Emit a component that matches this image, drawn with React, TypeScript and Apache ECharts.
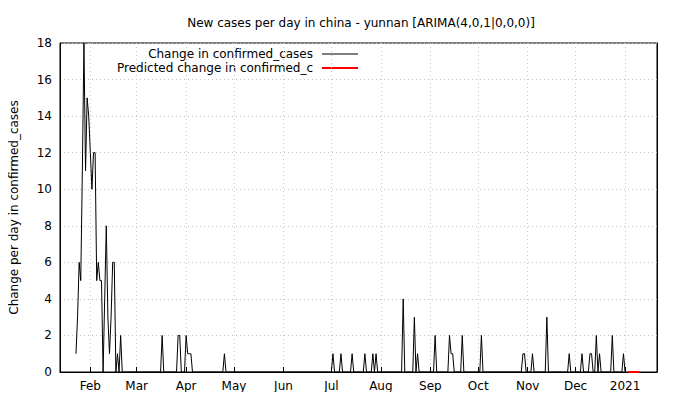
import React, { useEffect, useRef } from "react";
import * as echarts from "echarts";

const actualDates = [
  "2020-01-23","2020-01-24","2020-01-25","2020-01-26","2020-01-27","2020-01-28","2020-01-29","2020-01-30","2020-01-31",
  "2020-02-01","2020-02-02","2020-02-03","2020-02-04","2020-02-05","2020-02-06","2020-02-07","2020-02-08","2020-02-09",
  "2020-02-10","2020-02-11","2020-02-12","2020-02-13","2020-02-14","2020-02-15","2020-02-16","2020-02-17","2020-02-18",
  "2020-02-19","2020-02-20","2020-02-21",
  "2020-03-16","2020-03-17","2020-03-18","2020-03-26","2020-03-27","2020-03-28","2020-03-29","2020-03-31","2020-04-01",
  "2020-04-02","2020-04-03","2020-04-04","2020-04-05","2020-04-24","2020-04-25","2020-04-26",
  "2020-07-01","2020-07-02","2020-07-03","2020-07-06","2020-07-07","2020-07-08","2020-07-13","2020-07-14","2020-07-15",
  "2020-07-21","2020-07-22","2020-07-23","2020-07-26","2020-07-27","2020-07-28","2020-07-29","2020-07-30",
  "2020-08-14","2020-08-15","2020-08-16","2020-08-21","2020-08-22","2020-08-23","2020-08-24","2020-08-25",
  "2020-09-03","2020-09-04","2020-09-05","2020-09-12","2020-09-13","2020-09-14","2020-09-15","2020-09-16",
  "2020-09-20","2020-09-21","2020-09-22","2020-10-02","2020-10-03","2020-10-04",
  "2020-10-28","2020-10-29","2020-10-30","2020-10-31","2020-11-03","2020-11-04","2020-11-05","2020-11-12","2020-11-13","2020-11-14",
  "2020-11-26","2020-11-27","2020-11-28","2020-12-04","2020-12-05","2020-12-06","2020-12-09","2020-12-10","2020-12-11","2020-12-12",
  "2020-12-13","2020-12-14","2020-12-15","2020-12-16","2020-12-17","2020-12-23","2020-12-24","2020-12-25","2020-12-30","2020-12-31","2021-01-01",
];
const actualValues = [
  1,3,6,5,11,18,11,15,14,
  12,10,12,12,5,6,5,5,0,
  4,8,3,1,3,6,6,0,1,
  0,2,0,
  0,2,0,0,2,2,0,0,2,
  1,1,1,0,0,1,0,
  0,1,0,0,1,0,0,1,0,
  0,1,0,0,1,0,1,0,
  0,4,0,0,3,0,1,0,
  0,2,0,0,2,1,1,0,
  0,2,0,0,2,0,
  0,1,1,0,0,1,0,0,3,0,
  0,1,0,0,1,0,0,1,1,0,
  0,2,0,1,0,0,2,0,0,1,0,
];
const predDates = ["2021-01-03","2021-01-10"];
const predValues = [0, 0];
const monthNames = ["Jan","Feb","Mar","Apr","May","Jun","Jul","Aug","Sep","Oct","Nov","Dec"];

export default function App() {
  const ref = useRef<HTMLDivElement>(null);
  useEffect(() => {
    const chart = echarts.init(ref.current!, undefined, { renderer: "svg" });
    const font = "DejaVu Sans";
    chart.setOption({
      animation: false,
      textStyle: { fontFamily: font },
      title: {
        text: "New cases per day in china - yunnan [ARIMA(4,0,1|0,0,0)]",
        left: 356, top: 12, textAlign: "center",
        textStyle: { fontSize: 12, fontWeight: "normal", color: "#000", fontFamily: font },
      },
      grid: { left: 55, right: 23, top: 43, bottom: 28, show: true, borderColor: "#000", borderWidth: 1 },
      xAxis: {
        type: "time",
        min: "2020-01-13",
        max: "2021-01-21",
        splitNumber: 12,
        axisLine: { lineStyle: { color: "#000" } },
        axisTick: { inside: true, length: 5, lineStyle: { color: "#000" } },
        axisLabel: {
          color: "#000", fontSize: 12, fontFamily: font,
          formatter: (v: number) => {
            const d = new Date(v);
            return d.getMonth() === 0 ? String(d.getFullYear()) : monthNames[d.getMonth()];
          },
        },
        splitLine: { show: true, lineStyle: { color: "#c8c8c8", type: [1, 3] } },
      },
      yAxis: [
        {
          type: "value", min: 0, max: 18, interval: 2,
          name: "Change per day in confirmed_cases", nameLocation: "middle", nameGap: 40,
          nameTextStyle: { color: "#000", fontSize: 12, fontFamily: font },
          axisLine: { show: true, lineStyle: { color: "#000" } },
          axisTick: { inside: true, length: 5, lineStyle: { color: "#000" } },
          axisLabel: { color: "#000", fontSize: 12, fontFamily: font },
          splitLine: { show: true, lineStyle: { color: "#c8c8c8", type: [1, 3] } },
        },
        {
          type: "value", min: 0, max: 18, interval: 2, position: "right",
          axisLine: { show: true, lineStyle: { color: "#000" } },
          axisTick: { inside: true, length: 5, lineStyle: { color: "#000" } },
          axisLabel: { show: false }, splitLine: { show: false },
        },
      ],
      series: [
        {
          type: "line", name: "Change in confirmed_cases", showSymbol: false,
          lineStyle: { color: "#000", width: 1 },
          data: actualDates.map((d, i) => [d, actualValues[i]]),
        },
        {
          type: "line", name: "Predicted change in confirmed_c", showSymbol: false,
          lineStyle: { color: "#ff0000", width: 2 },
          data: predDates.map((d, i) => [d, predValues[i]]),
        },
      ],
      graphic: [
        { type: "text", x: 313, y: 54, style: { text: "Change in confirmed_cases", align: "right", verticalAlign: "middle", fontSize: 12, fontFamily: font, fill: "#000" } },
        { type: "line", shape: { x1: 322, y1: 54, x2: 358, y2: 54 }, style: { stroke: "#000", lineWidth: 1 } },
        { type: "text", x: 313, y: 68, style: { text: "Predicted change in confirmed_c", align: "right", verticalAlign: "middle", fontSize: 12, fontFamily: font, fill: "#000" } },
        { type: "line", shape: { x1: 322, y1: 68, x2: 358, y2: 68 }, style: { stroke: "#ff0000", lineWidth: 2 } },
      ],
    });
    return () => chart.dispose();
  }, []);
  return <div ref={ref} style={{ width: 680, height: 400, margin: -8 }} />;
}
